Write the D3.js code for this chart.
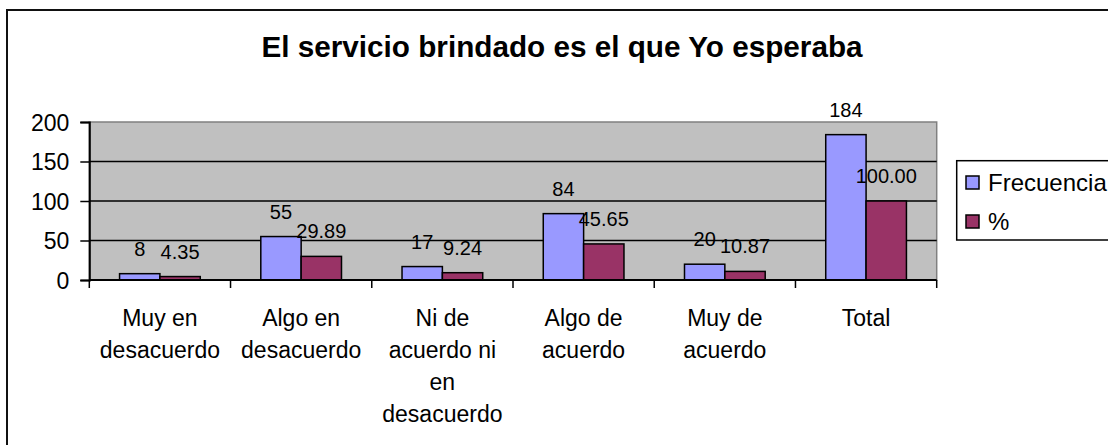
<!DOCTYPE html>
<html>
<head>
<meta charset="utf-8">
<script src="https://cdn.jsdelivr.net/npm/d3@7"></script>
<style>
  html, body { margin: 0; padding: 0; background: #ffffff; }
  svg { display: block; font-family: "Liberation Sans", Arial, sans-serif; }
</style>
</head>
<body>
<svg id="chart" width="1108" height="445"></svg>
<script>
const title = "El servicio brindado es el que Yo esperaba";
const categories = ["Muy en desacuerdo", "Algo en desacuerdo", "Ni de acuerdo ni en desacuerdo", "Algo de acuerdo", "Muy de acuerdo", "Total"];
const categoryLines = [["Muy en", "desacuerdo"], ["Algo en", "desacuerdo"], ["Ni de", "acuerdo ni", "en", "desacuerdo"], ["Algo de", "acuerdo"], ["Muy de", "acuerdo"], ["Total"]];
const seriesNames = ["Frecuencia", "%"];
const frecuencia = [8, 55, 17, 84, 20, 184];
const porcentaje = [4.35, 29.89, 9.24, 45.65, 10.87, 100.00];
const yTicks = [0, 50, 100, 150, 200];
const colors = ["#9999FF", "#993366"];

const svg = d3.select("#chart");

// outer chart border
svg.append("rect")
  .attr("x", 7).attr("y", 10).attr("width", 1120).attr("height", 460)
  .attr("fill", "#fff").attr("stroke", "#111").attr("stroke-width", 2);

const plot = { left: 89.3, right: 936.7, top: 122, bottom: 280 };

const x0 = d3.scaleBand().domain(categories).range([plot.left, plot.right]).padding(0);
const x1 = d3.scaleBand().domain(seriesNames).range([0, x0.bandwidth()]).paddingInner(0).paddingOuter(0.75);
const y = d3.scaleLinear().domain([0, 200]).range([plot.bottom, plot.top]);

// plot background
svg.append("rect")
  .attr("x", plot.left).attr("y", plot.top)
  .attr("width", plot.right - plot.left).attr("height", plot.bottom - plot.top)
  .attr("fill", "#C0C0C0").attr("stroke", "#808080").attr("stroke-width", 1.5);

// gridlines
svg.append("g").selectAll("line")
  .data(yTicks.filter(d => d > 0 && d < 200))
  .join("line")
  .attr("x1", plot.left).attr("x2", plot.right)
  .attr("y1", d => y(d)).attr("y2", d => y(d))
  .attr("stroke", "#000").attr("stroke-width", 1.5);

// bars
const data = categories.map((c, i) => ({ cat: c, vals: [frecuencia[i], porcentaje[i]] }));
const groups = svg.append("g").selectAll("g")
  .data(data).join("g")
  .attr("transform", d => `translate(${x0(d.cat)},0)`);

groups.selectAll("rect")
  .data(d => d.vals.map((v, j) => ({ s: seriesNames[j], v, j })))
  .join("rect")
  .attr("x", d => x1(d.s))
  .attr("y", d => y(d.v))
  .attr("width", x1.bandwidth())
  .attr("height", d => y(0) - y(d.v))
  .attr("fill", d => colors[d.j])
  .attr("stroke", "#000").attr("stroke-width", 1.5);

// y axis
const yAxis = d3.axisLeft(y).tickValues(yTicks).tickSize(9).tickPadding(11).tickFormat(d3.format("d"));
const yg = svg.append("g").attr("transform", `translate(${plot.left},0)`).call(yAxis);
yg.select(".domain").attr("stroke", "#000").attr("stroke-width", 2);
yg.selectAll(".tick line").attr("stroke", "#000").attr("stroke-width", 1.5);
yg.selectAll(".tick text")
  .attr("font-size", 23).attr("fill", "#000")
  .attr("font-family", "'Liberation Sans', Arial, sans-serif")
  .attr("dy", "0.36em");

// x axis
const xAxisLine = svg.append("g");
xAxisLine.append("line")
  .attr("x1", plot.left).attr("x2", plot.right)
  .attr("y1", plot.bottom).attr("y2", plot.bottom)
  .attr("stroke", "#000").attr("stroke-width", 2);
const boundaries = categories.map(c => x0(c)).concat([x0(categories[categories.length - 1]) + x0.bandwidth()]);
xAxisLine.selectAll("line.tick")
  .data(boundaries).join("line").attr("class", "tick")
  .attr("x1", d => d).attr("x2", d => d)
  .attr("y1", plot.bottom).attr("y2", plot.bottom + 8)
  .attr("stroke", "#000").attr("stroke-width", 1.5);

// category labels
const catLabels = svg.append("g").selectAll("text")
  .data(categories).join("text")
  .attr("x", d => x0(d) + x0.bandwidth() / 2)
  .attr("y", 325.7)
  .attr("text-anchor", "middle")
  .attr("font-size", 23).attr("fill", "#000");
catLabels.selectAll("tspan")
  .data((d, i) => categoryLines[i])
  .join("tspan")
  .attr("x", function () { return d3.select(this.parentNode).attr("x"); })
  .attr("dy", (d, i) => i === 0 ? 0 : 32)
  .text(d => d);

// data labels
groups.selectAll("text")
  .data(d => d.vals.map((v, j) => ({ s: seriesNames[j], v, j })))
  .join("text")
  .attr("x", d => x1(d.s) + x1.bandwidth() / 2)
  .attr("y", d => y(d.v) - 18)
  .attr("text-anchor", "middle")
  .attr("font-size", 20).attr("fill", "#000")
  .text(d => d.j === 0 ? d3.format("d")(d.v) : d3.format(".2f")(d.v));

// title
svg.append("text")
  .attr("x", 562).attr("y", 57)
  .attr("text-anchor", "middle")
  .attr("font-size", 29.7).attr("font-weight", "bold").attr("fill", "#000")
  .text(title);

// legend
const legend = svg.append("g");
legend.append("rect")
  .attr("x", 956.7).attr("y", 160.7).attr("width", 200).attr("height", 79.3)
  .attr("fill", "#fff").attr("stroke", "#000").attr("stroke-width", 1.5);
const li = legend.selectAll("g.item").data(seriesNames).join("g").attr("class", "item")
  .attr("transform", (d, i) => `translate(966,${176 + i * 39})`);
li.append("rect")
  .attr("width", 13).attr("height", 13)
  .attr("fill", (d, i) => colors[i]).attr("stroke", "#000").attr("stroke-width", 1.5);
li.append("text")
  .attr("x", 22).attr("y", 14.5)
  .attr("font-size", 24).attr("fill", "#000")
  .text(d => d);
</script>
</body>
</html>
